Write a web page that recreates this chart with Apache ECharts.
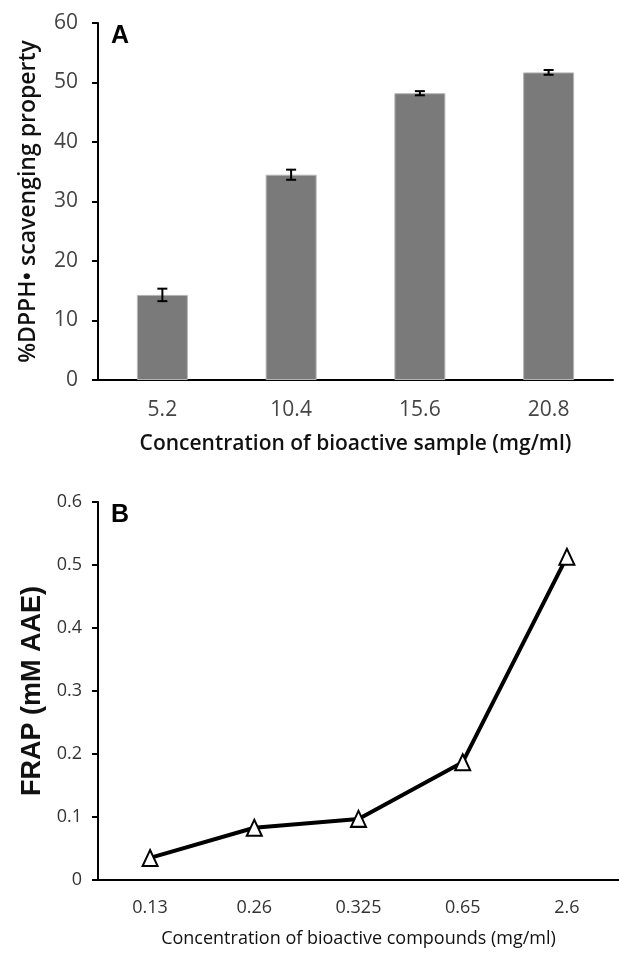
<!DOCTYPE html>
<html>
<head>
<meta charset="utf-8">
<script src="https://cdn.jsdelivr.net/npm/echarts@6/dist/echarts.min.js"></script>
<style>
  html, body { margin: 0; padding: 0; background: #fff; }
  #main { width: 619px; height: 957px; }
</style>
</head>
<body>
<div id="main"></div>
<script>
// panel A: DPPH scavenging
var dpphCats = ['5.2', '10.4', '15.6', '20.8'];
var dpphValues = [14.3, 34.5, 48.2, 51.7];
var dpphErrors = [1.05, 0.85, 0.35, 0.4];
var dpphTicks = [0, 10, 20, 30, 40, 50, 60];

// panel B: FRAP
var frapCats = ['0.13', '0.26', '0.325', '0.65', '2.6'];
var frapValues = [0.035, 0.083, 0.097, 0.187, 0.513];
var frapTicks = [0, 0.1, 0.2, 0.3, 0.4, 0.5, 0.6];

var chart = echarts.init(document.getElementById('main'));

var errData = dpphValues.map(function (v, i) {
  return [i, v - dpphErrors[i], v + dpphErrors[i]];
});

var option = {
  animation: false,
  grid: [
    { left: 98, top: 23, right: 6, bottom: 577 },
    { left: 98, top: 502, right: -7, bottom: 77 }
  ],
  xAxis: [{
    gridIndex: 0,
    type: 'category',
    data: dpphCats,
    name: 'Concentration of bioactive sample (mg/ml)',
    nameLocation: 'middle',
    nameGap: 54,
    nameTextStyle: { fontFamily: 'Open Sans', fontSize: 21, fontWeight: 600, color: '#111' },
    axisLine: { lineStyle: { color: '#000', width: 2 } },
    axisTick: { inside: false, length: 7, lineStyle: { color: '#000', width: 2 } },
    axisLabel: { margin: 20, fontFamily: 'Open Sans', fontSize: 21, color: '#444' }
  }, {
    gridIndex: 1,
    type: 'category',
    data: frapCats,
    name: 'Concentration of bioactive compounds (mg/ml)',
    nameLocation: 'middle',
    nameGap: 50,
    nameTextStyle: { fontFamily: 'Open Sans', fontSize: 18, fontWeight: 500, color: '#111' },
    axisLine: { lineStyle: { color: '#000', width: 2 } },
    axisTick: { length: 7, lineStyle: { color: '#000', width: 2 } },
    axisLabel: { margin: 19, fontFamily: 'Open Sans', fontSize: 18, color: '#333' }
  }],
  yAxis: [{
    gridIndex: 0,
    type: 'value',
    min: 0,
    max: 60,
    interval: 10,
    name: '%DPPH\u2022 scavenging property',
    nameLocation: 'middle',
    nameGap: 58,
    nameTextStyle: { fontFamily: 'Open Sans', fontSize: 23, fontWeight: 600, color: '#111' },
    axisLine: { show: true, lineStyle: { color: '#000', width: 2 } },
    axisTick: { show: true, length: 6, lineStyle: { color: '#000', width: 2 } },
    splitLine: { show: false },
    axisLabel: {
      margin: 20, fontFamily: 'Open Sans', fontSize: 21, color: '#444',
      formatter: function (v) { return dpphTicks.indexOf(v) >= 0 ? String(v) : ''; }
    }
  }, {
    gridIndex: 1,
    type: 'value',
    min: 0,
    max: 0.6,
    interval: 0.1,
    name: 'FRAP (mM AAE)',
    nameLocation: 'middle',
    nameGap: 50,
    nameTextStyle: { fontFamily: 'Liberation Sans', fontSize: 27, fontWeight: 'bold', color: '#111' },
    axisLine: { show: true, lineStyle: { color: '#000', width: 2 } },
    axisTick: { show: true, length: 6, lineStyle: { color: '#000', width: 2 } },
    splitLine: { show: false },
    axisLabel: {
      margin: 16, fontFamily: 'Open Sans', fontSize: 18, color: '#333',
      formatter: function (v) {
        var r = Math.round(v * 10) / 10;
        return frapTicks.indexOf(r) >= 0 ? String(r) : '';
      }
    }
  }],
  series: [{
    type: 'bar',
    xAxisIndex: 0,
    yAxisIndex: 0,
    data: dpphValues,
    barWidth: 51,
    itemStyle: { color: '#7a7a7a', borderColor: '#b5b5b5', borderWidth: 1 }
  }, {
    type: 'custom',
    xAxisIndex: 0,
    yAxisIndex: 0,
    data: errData,
    z: 5,
    renderItem: function (params, api) {
      var lo = api.coord([api.value(0), api.value(1)]);
      var hi = api.coord([api.value(0), api.value(2)]);
      var w = 5;
      var st = { stroke: '#000', lineWidth: 2 };
      return {
        type: 'group',
        children: [
          { type: 'line', shape: { x1: lo[0], y1: lo[1], x2: hi[0], y2: hi[1] }, style: st },
          { type: 'line', shape: { x1: lo[0] - w, y1: lo[1], x2: lo[0] + w, y2: lo[1] }, style: st },
          { type: 'line', shape: { x1: hi[0] - w, y1: hi[1], x2: hi[0] + w, y2: hi[1] }, style: st }
        ]
      };
    }
  }, {
    type: 'line',
    xAxisIndex: 1,
    yAxisIndex: 1,
    data: frapValues,
    symbol: 'triangle',
    symbolSize: [15, 16],
    lineStyle: { color: '#000', width: 4 },
    itemStyle: { color: '#fff', borderColor: '#000', borderWidth: 2 }
  }],
  graphic: [
    { type: 'text', left: 111, top: 24, style: { text: 'A', font: 'bold 25px "Liberation Sans", Arial', fill: '#000' } },
    { type: 'text', left: 111, top: 503, style: { text: 'B', font: 'bold 25px "Liberation Sans", Arial', fill: '#000' } }
  ]
};

chart.setOption(option);
</script>
</body>
</html>
